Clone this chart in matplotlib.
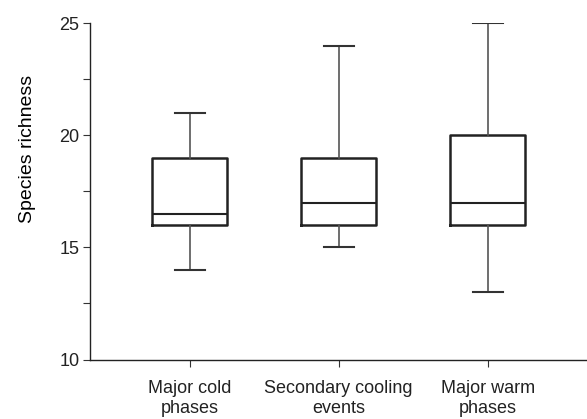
import matplotlib.pyplot as plt
from matplotlib.ticker import MultipleLocator

plt.rcParams['font.family'] = ['Liberation Sans', 'DejaVu Sans']

# box stats
categories = ["Major cold\nphases", "Secondary cooling\nevents", "Major warm\nphases"]
whislo = [14, 15, 13]
q1 = [16, 16, 16]
med = [16.5, 17, 17]
q3 = [19, 19, 20]
whishi = [21, 24, 25]

stats = []
for i in range(len(categories)):
    stats.append(dict(whislo=whislo[i], q1=q1[i], med=med[i], q3=q3[i],
                      whishi=whishi[i], fliers=[], label=categories[i]))

fig = plt.figure(figsize=(5.87, 4.19), dpi=100)
ax = fig.add_axes([0.154, 0.142, 0.846, 0.802])

ax.bxp(stats, positions=[1, 2, 3], widths=0.5, showfliers=False,
       boxprops=dict(color="#222222", linewidth=1.8),
       medianprops=dict(color="#222222", linewidth=1.5),
       whiskerprops=dict(color="#555555", linewidth=1.2),
       capprops=dict(color="#333333", linewidth=1.5),
       capwidths=0.2)

ax.set_xlim(1 / 3, 3 + 2 / 3)
ax.set_ylim(10, 25)
ax.yaxis.set_major_locator(MultipleLocator(5))
ax.yaxis.set_minor_locator(MultipleLocator(2.5))
ax.set_ylabel("Species richness", fontsize=14, va="center")
ax.yaxis.set_label_coords(-0.127, 0.626)

for s in ["top", "right"]:
    ax.spines[s].set_visible(False)
for s in ["left", "bottom"]:
    ax.spines[s].set_linewidth(1.0)
    ax.spines[s].set_color("#222222")

ax.tick_params(axis="both", which="both", length=5, width=0.8, color="#333333",
               labelsize=13, labelcolor="#222222")
ax.tick_params(axis="x", pad=10)
ax.tick_params(axis="y", pad=3)

fig.savefig("out.png", dpi=100)
